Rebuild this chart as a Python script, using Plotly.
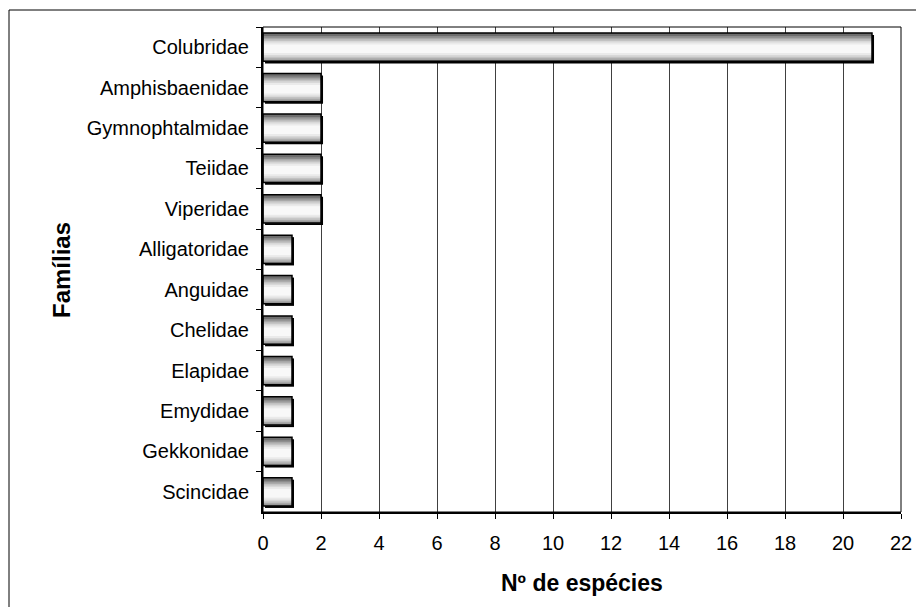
import plotly.graph_objects as go

familias = ["Colubridae", "Amphisbaenidae", "Gymnophtalmidae", "Teiidae", "Viperidae",
            "Alligatoridae", "Anguidae", "Chelidae", "Elapidae", "Emydidae",
            "Gekkonidae", "Scincidae"]
especies = [21, 2, 2, 2, 2, 1, 1, 1, 1, 1, 1, 1]
x_ticks = list(range(0, 23, 2))

FONT = "Liberation Sans, Arial, sans-serif"
W = 0.70

fig = go.Figure()

# shadow
fig.add_trace(go.Bar(y=familias, x=especies, base=0.07, orientation="h", width=W,
                     offset=-W / 2 + 0.05, marker=dict(color="black", line=dict(width=0)),
                     hoverinfo="skip", showlegend=False))
# cylinder shading layers
layers = [(W, "#6e6e6e"), (0.63, "#8c8c8c"), (0.55, "#a8a8a8"), (0.47, "#c2c2c2"),
          (0.39, "#d8d8d8"), (0.31, "#eaeaea"), (0.21, "#f8f8f8")]
for w, c in layers:
    off = -w / 2 + (0.0 if w == W else 0.04)
    fig.add_trace(go.Bar(y=familias, x=especies, orientation="h", width=w, offset=off,
                         marker=dict(color=c, line=dict(width=0)),
                         hoverinfo="skip", showlegend=False))
# outline
fig.add_trace(go.Bar(y=familias, x=especies, orientation="h", width=W, offset=-W / 2,
                     marker=dict(color="rgba(0,0,0,0)", line=dict(color="black", width=1.5)),
                     showlegend=False))

# page body has an 8px margin: work in figure pixels = reference pixels - 8
FW, FH = 916, 599
PL, PR, PT, PB = 255, 893, 19, 504
pw, ph = PR - PL, PB - PT

fig.update_layout(
    width=FW, height=FH,
    margin=dict(l=PL, r=FW - PR, t=PT, b=FH - PB),
    barmode="overlay",
    plot_bgcolor="white", paper_bgcolor="white",
    font=dict(family=FONT, color="black"),
    xaxis=dict(range=[0, 22], tickvals=x_ticks, ticks="outside", ticklen=5, tickwidth=1,
               tickcolor="black", showgrid=True, gridcolor="#404040", gridwidth=1,
               showline=True, linecolor="black", linewidth=2, zeroline=False,
               tickfont=dict(size=20, family=FONT, color="black"), ticklabelstandoff=7),
    yaxis=dict(autorange="reversed", type="category", ticks="outside", ticklen=5,
               tickwidth=1, tickcolor="black", tickson="boundaries", showgrid=False,
               showline=True, linecolor="black", linewidth=2,
               tickfont=dict(size=20, family=FONT, color="black"), ticklabelstandoff=8),
    shapes=[
        dict(type="rect", xref="paper", yref="paper", x0=0, x1=1, y0=0, y1=1,
             line=dict(color="black", width=1), layer="above"),
        dict(type="rect", xref="paper", yref="paper",
             x0=(1 - PL) / pw, x1=(930 - PL) / pw, y0=(PB - 615) / ph, y1=(PB - 2) / ph,
             line=dict(color="black", width=1), layer="below"),
    ],
    annotations=[
        dict(text="Nº de espécies", xref="paper", yref="paper", x=0.5, y=(PB - 575) / ph,
             xanchor="center", yanchor="middle", showarrow=False,
             font=dict(size=23, family=FONT, color="black", weight="bold")),
        dict(text="Famílias", xref="paper", yref="paper", x=(53 - PL) / pw,
             y=(PB - 262) / ph, xanchor="center", yanchor="middle", textangle=-90,
             showarrow=False, font=dict(size=24, family=FONT, color="black", weight="bold")),
    ],
)

fig.write_html("out.html")
